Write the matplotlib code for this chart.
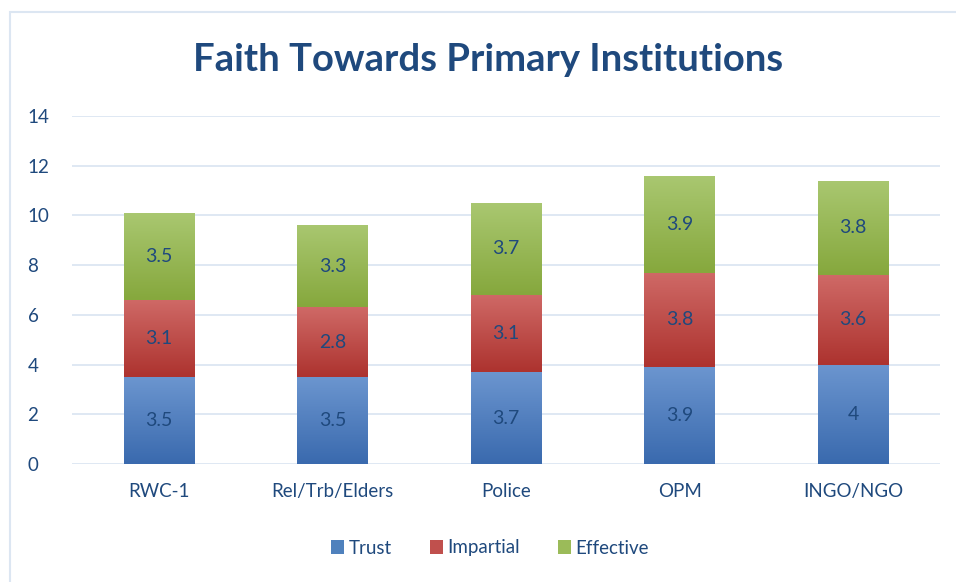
import numpy as np
import matplotlib
matplotlib.use("Agg")
import matplotlib.pyplot as plt
from matplotlib.colors import LinearSegmentedColormap
from matplotlib.patches import Rectangle, Patch

plt.rcParams["font.family"] = ["Lato", "DejaVu Sans"]

# ── data ─────────────────────────────────────────────────────────────────────
categories = ["RWC-1", "Rel/Trb/Elders", "Police", "OPM", "INGO/NGO"]
trust      = [3.5, 3.5, 3.7, 3.9, 4.0]
impartial  = [3.1, 2.8, 3.1, 3.8, 3.6]
effective  = [3.5, 3.3, 3.7, 3.9, 3.8]
labels_t   = ["3.5", "3.5", "3.7", "3.9", "4"]
labels_i   = ["3.1", "2.8", "3.1", "3.8", "3.6"]
labels_e   = ["3.5", "3.3", "3.7", "3.9", "3.8"]

series = [
    ("Trust",      trust,     labels_t, "#6B95CF", "#3A6AAE", "#4F81BD"),
    ("Impartial",  impartial, labels_i, "#CF6966", "#AD332F", "#C0504D"),
    ("Effective",  effective, labels_e, "#A9C770", "#86A83D", "#9BBB59"),
]

navy = "#1F497D"
grid_c = "#DCE6F2"

fig = plt.figure(figsize=(9.56, 5.82), dpi=100)
fig.patches.append(Rectangle((10 / 956, -0.1), 1.2, 1 - 12 / 582 + 0.1,
                             transform=fig.transFigure, fill=False,
                             edgecolor="#DCE6F2", linewidth=1.5))

ax = fig.add_axes([72 / 956, 1 - 464 / 582, (940 - 72) / 956, (464 - 116) / 582])
x = np.arange(len(categories))
width = 0.405
bottom = np.zeros(len(categories))

for name, vals, labs, top_c, bot_c, solid in series:
    vals = np.array(vals)
    bars = ax.bar(x, vals, width, bottom=bottom, color=solid,
                  edgecolor="none", zorder=2)
    cmap = LinearSegmentedColormap.from_list(name, [bot_c, top_c])
    grad = np.linspace(0, 1, 64).reshape(-1, 1)
    for b in bars:
        bx, by = b.get_x(), b.get_y()
        im = ax.imshow(grad, cmap=cmap, aspect="auto", origin="lower",
                       extent=[bx, bx + b.get_width(), by, by + b.get_height()],
                       zorder=3)
        im.set_clip_path(b)
    for xi, bo, v, lab in zip(x, bottom, vals, labs):
        ax.text(xi, bo + v / 2, lab, ha="center", va="center",
                fontsize=14, color=navy, zorder=5)
    bottom = bottom + vals

ax.set_xlim(-0.5, len(categories) - 0.5)
ax.set_ylim(0, 14)
ax.set_yticks(range(0, 15, 2))
ax.set_xticks(x)
ax.set_xticklabels(categories)
ax.tick_params(axis="both", length=0, labelsize=13.5, labelcolor=navy)
ax.tick_params(axis="y", pad=32)
ax.tick_params(axis="x", pad=14)
for lbl in ax.get_yticklabels():
    lbl.set_horizontalalignment("left")
for s in ax.spines.values():
    s.set_visible(False)
ax.grid(axis="y", color=grid_c, linewidth=1.3, zorder=0)
ax.set_axisbelow(True)

fig.text(488 / 956, 1 - 60 / 582, "Faith Towards Primary Institutions",
         ha="center", va="center", fontsize=27.5, fontweight="bold", color=navy)

handles = [Patch(facecolor=s[5], edgecolor="none") for s in series]
fig.legend(handles, [s[0] for s in series], loc="center",
           bbox_to_anchor=(490 / 956, 1 - 548 / 582), ncol=3, frameon=False,
           fontsize=13.5, labelcolor=navy, handlelength=0.7, handleheight=0.7,
           handletextpad=0.25, columnspacing=2.0)

fig.savefig("out.png", dpi=100)
